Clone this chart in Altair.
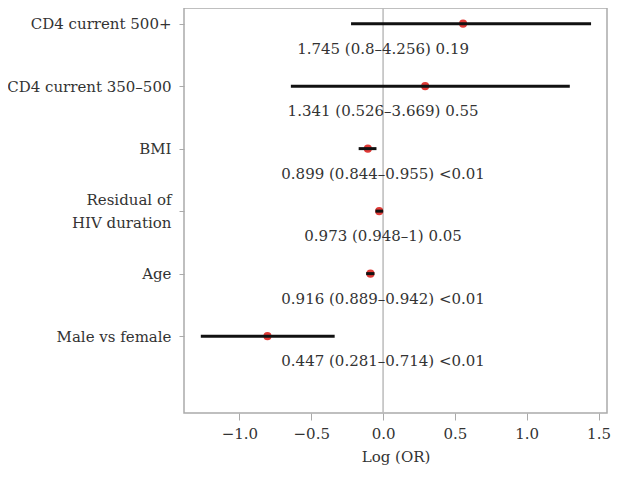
import json
import altair as alt
import pandas as pd

# Data
labels = ["CD4 current 500+", "CD4 current 350–500", "BMI",
          ["Residual of", "HIV duration"], "Age", "Male vs female"]
rows = [6, 5, 4, 3, 2, 1]
log_or = [0.557, 0.293, -0.106, -0.027, -0.088, -0.805]
log_lo = [-0.223, -0.642, -0.170, -0.053, -0.118, -1.269]
log_hi = [1.448, 1.300, -0.046, 0.0, -0.060, -0.337]
annot = ["1.745 (0.8–4.256) 0.19", "1.341 (0.526–3.669) 0.55",
         "0.899 (0.844–0.955) <0.01", "0.973 (0.948–1) 0.05",
         "0.916 (0.889–0.942) <0.01", "0.447 (0.281–0.714) <0.01"]
x_ticks = [-1.0, -0.5, 0.0, 0.5, 1.0, 1.5]

df = pd.DataFrame({"row": rows, "est": log_or, "lo": log_lo, "hi": log_hi, "txt": annot})

FONT = "DejaVu Serif"
FS = 15
xdom = [-1.386, 1.559]
ydom = [-0.23, 6.25]

# label lookup: index by row value
lookup = [None] * 7
for r, l in zip(rows, labels):
    lookup[r] = l
label_expr = json.dumps(lookup, ensure_ascii=False).replace("null", "''") + "[datum.value]"

xscale = alt.Scale(domain=xdom, nice=False, zero=False)
x = alt.X("est:Q", scale=xscale,
          axis=alt.Axis(values=x_ticks, format=".1f", title="Log (OR)", grid=False,
                        domain=False, tickColor="#aaa", tickSize=7, labelFont=FONT,
                        labelFontSize=FS, labelColor="#333", labelPadding=6,
                        labelOverlap=False, labelBound=False,
                        titleFont=FONT, titleFontSize=FS, titleFontWeight="normal",
                        titleColor="#333", titlePadding=8))
y = alt.Y("row:Q", scale=alt.Scale(domain=ydom, nice=False, zero=False),
          axis=alt.Axis(values=rows, labelExpr=label_expr, title=None, grid=False,
                        domain=False, tickColor="#aaa", tickSize=5, labelFont=FONT,
                        labelFontSize=FS, labelColor="#333", labelPadding=8,
                        labelLineHeight=23, labelLimit=300,
                        labelOffset={"condition": {"test": "datum.value == 3", "value": -12}, "value": 0}))

base = alt.Chart(df)

zero_line = alt.Chart(pd.DataFrame({"z": [0.0]})).mark_rule(color="#bbb", strokeWidth=1.5).encode(
    x=alt.X("z:Q", scale=xscale))

pts = base.mark_circle(color="#e03a36", opacity=1, size=65).encode(x=x, y=y)
bars = base.mark_rule(color="#111", strokeWidth=3).encode(
    x=alt.X("lo:Q", scale=xscale), x2="hi:Q", y=y)
txt = base.mark_text(font=FONT, fontSize=FS, color="#333", dy=25).encode(
    x=alt.datum(0.0, scale=xscale), y=y, text="txt:N")

chart = alt.layer(zero_line, pts, bars, txt).properties(
    width=423, height=405,
    autosize=alt.AutoSizeParams(type="none"),
    padding={"left": 176, "top": 0, "right": 6, "bottom": 64},
).configure_view(stroke="#aaa", strokeWidth=1.5)

chart.save("out.html", embed_options={"renderer": "svg", "actions": False})
